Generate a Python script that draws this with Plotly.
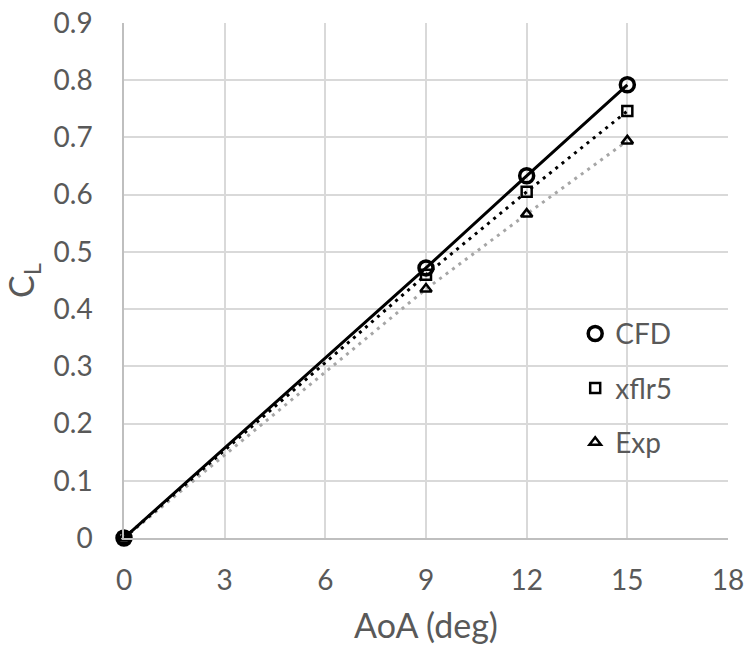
import plotly.graph_objects as go

# Lift coefficient vs. angle of attack
aoa = [0, 9, 12, 15]
cl_cfd = [0.0, 0.472, 0.633, 0.792]
cl_xflr5 = [0.0, 0.460, 0.605, 0.746]
cl_exp = [0.0, 0.435, 0.566, 0.694]

x_ticks = [0, 3, 6, 9, 12, 15, 18]
y_ticks = [0, 0.1, 0.2, 0.3, 0.4, 0.5, 0.6, 0.7, 0.8, 0.9]

FONT = "Lato, 'Open Sans', sans-serif"
TXT = "#595959"
GRID = "#D9D9D9"

fig = go.Figure()

# connecting lines (drawn first, no legend entries)
fig.add_trace(go.Scatter(x=aoa, y=cl_exp, mode="lines", showlegend=False,
                         line=dict(color="#A6A6A6", width=3, dash="3px,5px")))
fig.add_trace(go.Scatter(x=aoa, y=cl_xflr5, mode="lines", showlegend=False,
                         line=dict(color="black", width=3, dash="3px,5px")))
fig.add_trace(go.Scatter(x=aoa, y=cl_cfd, mode="lines", showlegend=False,
                         line=dict(color="black", width=3)))

# data markers (not clipped at the axes so the origin points show in full)
fig.add_trace(go.Scatter(x=aoa, y=cl_exp, mode="markers", name="Exp", legendgroup="c",
                         legendrank=3, cliponaxis=False,
                         marker=dict(symbol="triangle-up-open", size=10, color="black",
                                     line=dict(width=2.5, color="black"))))
fig.add_trace(go.Scatter(x=aoa, y=cl_xflr5, mode="markers", name="xflr5", legendgroup="b",
                         legendrank=2, cliponaxis=False,
                         marker=dict(symbol="square-open", size=10, color="black",
                                     line=dict(width=2.5, color="black"))))
fig.add_trace(go.Scatter(x=aoa, y=cl_cfd, mode="markers", name="CFD", legendgroup="a",
                         legendrank=1, cliponaxis=False,
                         marker=dict(symbol="circle-open", size=14, color="black",
                                     line=dict(width=3.5, color="black"))))

fig.update_layout(
    width=746, height=654,
    margin=dict(l=124, r=18, t=23, b=116),
    paper_bgcolor="white", plot_bgcolor="white",
    font=dict(family=FONT, size=28, color=TXT),
    legend=dict(x=0.747, y=0.445, xanchor="left", yanchor="top",
                bgcolor="rgba(0,0,0,0)", traceorder="grouped",
                tracegroupgap=15, font=dict(size=28, color=TXT)),
    xaxis=dict(range=[0, 18], tickvals=x_ticks, showgrid=True, gridcolor=GRID,
               gridwidth=1.5, zeroline=False, showline=True, linecolor="#BFBFBF",
               linewidth=1.5, ticks="", ticklabelstandoff=17, automargin=False,
               title=dict(text="AoA (deg)", font=dict(size=34, color=TXT), standoff=19)),
    yaxis=dict(range=[0, 0.9], tickvals=y_ticks, showgrid=True, gridcolor=GRID,
               gridwidth=1.5, zeroline=False, showline=True, linecolor="#BFBFBF",
               linewidth=1.5, ticks="", ticklabelstandoff=24, automargin=False,
               title=dict(text="C<sub>L</sub>", font=dict(size=34, color=TXT), standoff=18)),
)

fig.write_html("out.html")
